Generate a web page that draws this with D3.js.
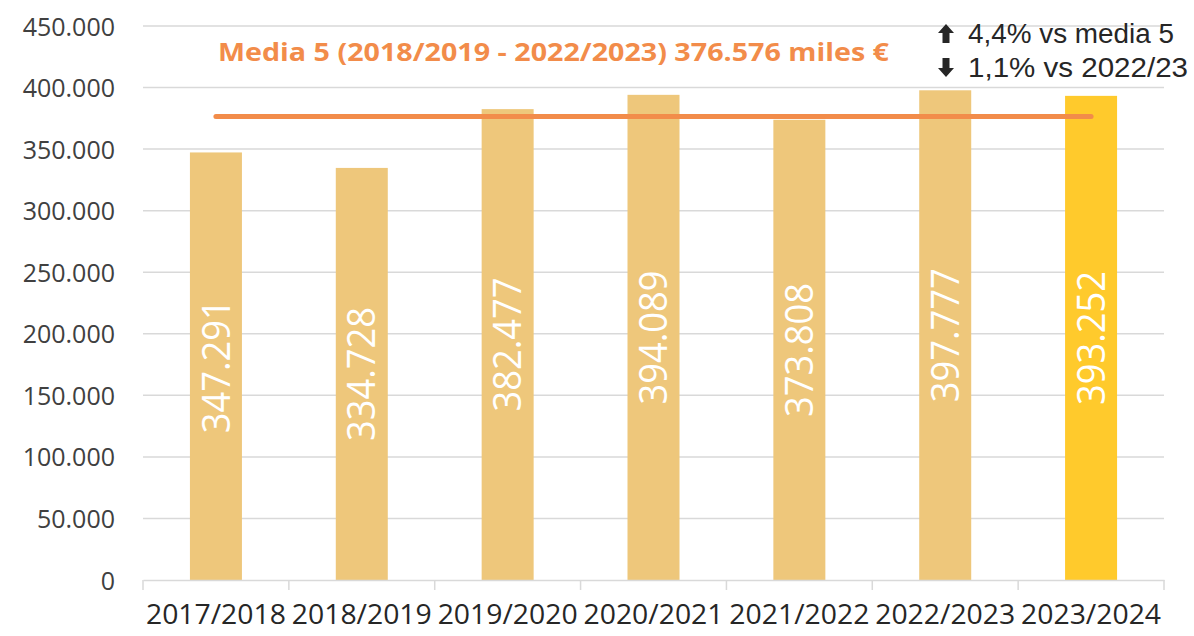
<!DOCTYPE html>
<html><head><meta charset="utf-8">
<script src="https://cdn.jsdelivr.net/npm/d3@7"></script>
<style>body{margin:0;background:#fff}svg{display:block}</style>
</head><body>
<svg id="c" width="1194" height="636"></svg>
<script>
const categories = ["2017/2018","2018/2019","2019/2020","2020/2021","2021/2022","2022/2023","2023/2024"];
const values = [347291, 334728, 382477, 394089, 373808, 397777, 393252];
const valueLabels = ["347.291","334.728","382.477","394.089","373.808","397.777","393.252"];
const yTicks = [0,50000,100000,150000,200000,250000,300000,350000,400000,450000];
const yTickLabels = ["0","50.000","100.000","150.000","200.000","250.000","300.000","350.000","400.000","450.000"];
const meanValue = 376576;
const titleText = "Media 5 (2018/2019 - 2022/2023) 376.576 miles €";
const noteLines = ["4,4% vs media 5","1,1% vs 2022/23"];
const noteArrows = ["up","down"];

(function(){
const svg = d3.select("#c");
const pL = 143, pR = 1164, pT = 26, pB = 580;
const x = d3.scaleBand().domain(categories).range([pL, pR]).paddingInner(0).paddingOuter(0);
const y = d3.scaleLinear().domain([0, 450000]).range([pB, pT]);
const font = "'Open Sans', 'Liberation Sans', sans-serif";

// gridlines
svg.append("g").selectAll("line").data(yTicks.filter(d=>d>0)).join("line")
  .attr("x1", pL).attr("x2", pR).attr("y1", d=>y(d)).attr("y2", d=>y(d))
  .attr("stroke", "#d9d9d9").attr("stroke-width", 1.5);

// y axis labels
const yAxis = d3.axisLeft(y).tickValues(yTicks).tickFormat((d,i)=>yTickLabels[i]).tickSize(0).tickPadding(28);
const ya = svg.append("g").attr("transform", `translate(${pL},0)`).call(yAxis);
ya.select(".domain").remove();
ya.selectAll("text").attr("font-family", font).attr("font-size", 25).attr("fill", "#404040").attr("dy", "0.36em");

// bars
const bw = 52;
svg.append("g").selectAll("rect").data(values).join("rect")
  .attr("x", (d,i)=>x(categories[i]) + x.bandwidth()/2 - bw/2)
  .attr("width", bw)
  .attr("y", d=>y(d))
  .attr("height", d=>y(0)-y(d))
  .attr("fill", (d,i)=> i === values.length-1 ? "#FFCA2C" : "#EEC77B");

// x axis
const xAxis = d3.axisBottom(x).tickSize(0).tickPadding(24);
const xa = svg.append("g").attr("transform", `translate(0,${pB})`).call(xAxis);
xa.select(".domain").attr("stroke", "#d9d9d9").attr("stroke-width", 1.5);
xa.selectAll("text").attr("font-family", font).attr("font-size", 28).attr("fill", "#262626")
  .attr("textLength", 140).attr("lengthAdjust", "spacingAndGlyphs");
// category separators
const bounds = categories.map(c=>x(c)).concat([pR]);
svg.append("g").selectAll("line").data(bounds).join("line")
  .attr("x1", d=>d).attr("x2", d=>d).attr("y1", pB).attr("y2", pB+10)
  .attr("stroke", "#d9d9d9").attr("stroke-width", 1.5);

// value labels
svg.append("g").selectAll("text").data(values).join("text")
  .attr("transform", (d,i)=>`translate(${x(categories[i]) + x.bandwidth()/2},${(y(d)+y(0))/2}) rotate(-90)`)
  .attr("text-anchor", "middle").attr("dy", "0.36em")
  .attr("font-family", font).attr("font-weight", 400).attr("font-size", 38).attr("fill", "#fff")
  .attr("textLength", 134).attr("lengthAdjust", "spacingAndGlyphs")
  .text((d,i)=>valueLabels[i]);

// mean line
const c0 = x(categories[0]) + x.bandwidth()/2, c1 = x(categories[categories.length-1]) + x.bandwidth()/2;
svg.append("line").attr("x1", c0).attr("x2", c1).attr("y1", y(meanValue)).attr("y2", y(meanValue))
  .attr("stroke", "#F28C4A").attr("stroke-width", 5).attr("stroke-linecap", "round");

// title
svg.append("text").attr("x", 553.5).attr("y", 61).attr("text-anchor", "middle")
  .attr("font-family", font).attr("font-weight", "bold")
  .attr("font-size", 25).attr("fill", "#F28C4A")
  .attr("textLength", 671).attr("lengthAdjust", "spacingAndGlyphs")
  .text(titleText);

// notes
const noteG = svg.append("g");
const noteBase = [43, 77];
const noteLen = [206, 220];
noteLines.forEach((t,i)=>{
  const yy = noteBase[i];
  noteG.append("text").attr("x", 968).attr("y", yy).attr("font-family", "'Liberation Sans', Arial, sans-serif")
    .attr("font-size", 27).attr("fill", "#262626")
    .attr("textLength", noteLen[i]).attr("lengthAdjust", "spacingAndGlyphs").text(t);
  const ax = 946, up = noteArrows[i] === "up";
  const tip = up ? yy - 19 : yy;
  const base = up ? yy : yy - 19;
  const s = up ? 1 : -1;
  const mid = tip + s*9;
  const path = `M${ax},${tip} L${ax+8},${mid} L${ax+3.5},${mid} L${ax+3.5},${base} L${ax-3.5},${base} L${ax-3.5},${mid} L${ax-8},${mid} Z`;
  noteG.append("path").attr("d", path).attr("fill", "#262626");
});
})();
</script>
</body></html>
